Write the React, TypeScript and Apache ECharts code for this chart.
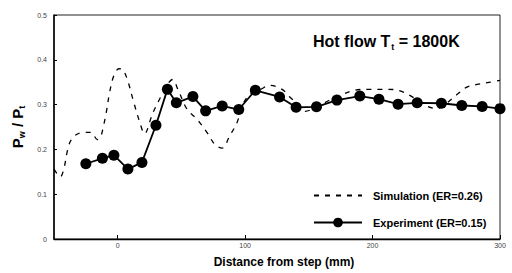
import React, { useEffect, useRef } from "react";
import * as echarts from "echarts";

const expX = [-25, -12, -3, 8, 19, 30, 39, 46, 59, 69, 82, 95, 108, 127, 140, 156, 172, 190, 205, 220, 235, 254, 270, 286, 300];
const expY = [0.168, 0.18, 0.187, 0.156, 0.171, 0.254, 0.334, 0.304, 0.318, 0.286, 0.297, 0.289, 0.332, 0.317, 0.294, 0.295, 0.31, 0.319, 0.312, 0.301, 0.304, 0.303, 0.298, 0.296, 0.291];

const simX = [-50, -45, -42, -40, -37.5, -33.5, -27, -21, -16, -13.5, -11.5, -9, -6.5, -3, 1, 4, 8, 12, 17.5, 21, 27.5, 35, 39.5, 43, 47.5, 54.5, 62, 70, 76.5, 82, 88, 93.5, 98.5, 104, 112, 119.5, 129, 135, 141, 147, 157, 167, 175, 186, 196, 204, 212, 220, 235, 243, 250.5, 258.5, 266, 274, 282, 290, 300];
const simY = [0.156, 0.139, 0.16, 0.19, 0.216, 0.231, 0.238, 0.238, 0.222, 0.228, 0.248, 0.282, 0.325, 0.365, 0.38, 0.378, 0.352, 0.311, 0.259, 0.235, 0.281, 0.324, 0.347, 0.356, 0.332, 0.289, 0.268, 0.238, 0.21, 0.203, 0.231, 0.259, 0.302, 0.324, 0.334, 0.343, 0.334, 0.317, 0.302, 0.285, 0.296, 0.311, 0.321, 0.332, 0.334, 0.334, 0.334, 0.332, 0.311, 0.296, 0.291, 0.304, 0.322, 0.339, 0.345, 0.349, 0.354];

const xTicks = [0, 100, 200, 300];

export default function App() {
  const ref = useRef<HTMLDivElement>(null);
  useEffect(() => {
    if (!ref.current) return;
    const chart = echarts.init(ref.current, undefined, { renderer: "svg" });
    const font = "Liberation Sans, Arial, sans-serif";
    chart.setOption({
      animation: false,
      backgroundColor: "#fff",
      textStyle: { fontFamily: font },
      title: {
        left: 308,
        top: 27,
        text: "{a|Hot flow T}{s|t}{a| = 1800K}",
        textStyle: {
          rich: {
            a: { fontSize: 16, fontWeight: "bold", color: "#000", fontFamily: font },
            s: { fontSize: 9, fontWeight: "bold", color: "#000", fontFamily: font, padding: [10, 0, 0, 1] },
          },
        },
      },
      legend: {
        orient: "vertical",
        left: 308,
        top: 185,
        itemWidth: 48,
        itemHeight: 12,
        itemGap: 16,
        textStyle: { fontSize: 11, fontWeight: "bold", color: "#000", fontFamily: font, padding: [0, 0, 0, 6] },
        data: [
          { name: "Simulation (ER=0.26)", itemStyle: { opacity: 0 } },
          { name: "Experiment (ER=0.15)" },
        ],
      },
      grid: { left: 54, right: 12, top: 15, bottom: 25.5, show: true, borderColor: "#222", borderWidth: 1 },
      xAxis: {
        type: "value",
        min: -50,
        max: 300,
        name: "Distance from step (mm)",
        nameLocation: "middle",
        nameGap: 17,
        nameTextStyle: { fontSize: 12, fontWeight: "bold", color: "#000", fontFamily: font, padding: [0, 0, 0, 14] },
        axisLine: { onZero: false, lineStyle: { color: "#000", width: 1.3 } },
        axisTick: { inside: true, length: 4, customValues: xTicks, lineStyle: { color: "#000" } },
        axisLabel: { customValues: xTicks, fontSize: 7, color: "#444", margin: 3 },
        splitLine: { show: false },
      },
      yAxis: {
        type: "value",
        min: 0,
        max: 0.5,
        interval: 0.1,
        name: "{p|P}{s|w}{p| / P}{s|t}",
        nameLocation: "middle",
        nameRotate: 90,
        nameGap: 23,
        nameTextStyle: {
          rich: {
            p: { fontSize: 15, fontWeight: "bold", color: "#000", fontFamily: font },
            s: { fontSize: 9, fontWeight: "bold", color: "#000", fontFamily: font, padding: [9, 0, 0, 0] },
          },
        },
        axisLine: { onZero: false, lineStyle: { color: "#000", width: 1.5 } },
        axisTick: { inside: true, length: 3, lineStyle: { color: "#000" } },
        axisLabel: {
          fontSize: 7,
          color: "#444",
          margin: 7,
          formatter: (v: number) => (v === 0 ? "0" : v.toFixed(1)),
        },
        splitLine: { show: false },
      },
      series: [
        {
          name: "Simulation (ER=0.26)",
          type: "line",
          data: simX.map((x, i) => [x, simY[i]]),
          showSymbol: false,
          symbol: "none",
          smooth: 0.35,
          lineStyle: { color: "#000", width: 1.3, type: [5, 6] },
          itemStyle: { color: "#000" },
          z: 2,
        },
        {
          name: "Experiment (ER=0.15)",
          type: "line",
          data: expX.map((x, i) => [x, expY[i]]),
          symbol: "circle",
          symbolSize: 11,
          lineStyle: { color: "#000", width: 1.8 },
          itemStyle: { color: "#000" },
          z: 3,
        },
      ],
    });
    return () => chart.dispose();
  }, []);
  return <div ref={ref} style={{ width: 512, height: 273, position: "absolute", left: 0, top: 0 }} />;
}
